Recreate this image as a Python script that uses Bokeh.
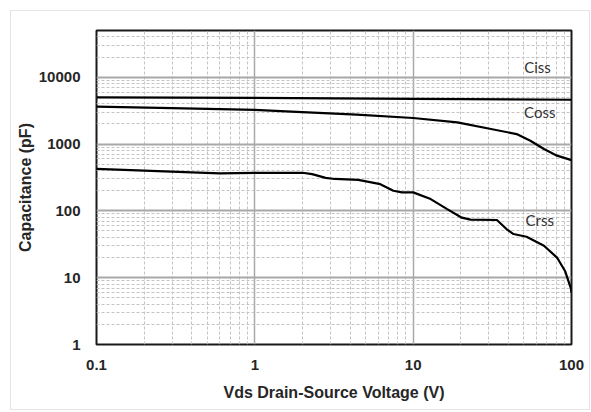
from bokeh.plotting import figure
from bokeh.models import FixedTicker, Label
from bokeh.embed import file_html
from bokeh.resources import INLINE

# ---- data ----
x_major = [0.1, 1, 10, 100]
x_labels = ["0.1", "1", "10", "100"]
y_major = [1, 10, 100, 1000, 10000]
y_labels = ["1", "10", "100", "1000", "10000"]

ciss_v = [0.1, 1, 10, 100]
ciss_c = [5000, 4900, 4750, 4600]

coss_v = [0.1, 0.3, 1, 1.7, 4.4, 10, 19, 31, 45, 55, 67, 81, 100]
coss_c = [3640, 3450, 3240, 3060, 2760, 2450, 2110, 1680, 1410, 1120, 843, 670, 575]

crss_v = [0.1, 0.2, 0.4, 0.6, 1, 2, 2.3, 2.8, 3.2, 4.5, 6.2, 7.5, 8.5, 10, 12.9,
          16.4, 20.3, 23, 33.8, 39, 43, 52, 67, 81, 91, 99, 100]
crss_c = [424, 400, 377, 363, 369, 372, 355, 312, 300, 290, 251, 200, 189, 189, 150,
          106, 79, 74, 73, 53, 45, 41, 30, 20, 12.6, 7, 6]

series_names = ["Ciss", "Coss", "Crss"]
label_v = [61, 63, 63]
label_c = [14000, 3000, 73]

x_range = (0.1, 100)
y_range = (1, 50000)

x_minor = [m * 10.0 ** e for e in range(-1, 2) for m in range(2, 10)]
y_minor = [m * 10.0 ** e for e in range(0, 5) for m in range(2, 10) if m * 10.0 ** e < y_range[1]]

p = figure(
    x_axis_type="log", y_axis_type="log",
    x_range=x_range, y_range=y_range,
    frame_width=475, frame_height=314,
    min_border_left=85, min_border_right=18, min_border_top=19, min_border_bottom=65,
    output_backend="svg", toolbar_location=None,
    x_axis_label="Vds Drain-Source Voltage (V)",
    y_axis_label="Capacitance (pF)",
)
p.styles = {"margin": "10px 0px 0px 10px", "border": "1px solid #e4e4e4"}
p.background_fill_color = "white"
p.border_fill_color = "white"
p.outline_line_color = "#1a1a1a"
p.outline_line_width = 2

p.xaxis.ticker = FixedTicker(ticks=x_major, minor_ticks=x_minor)
p.yaxis.ticker = FixedTicker(ticks=y_major, minor_ticks=y_minor)
p.xaxis.major_label_overrides = {v: s for v, s in zip(x_major, x_labels)}
p.yaxis.major_label_overrides = {v: s for v, s in zip(y_major, y_labels)}

for ax in (p.xaxis, p.yaxis):
    ax.axis_line_color = None
    ax.major_tick_line_color = None
    ax.minor_tick_line_color = None
    ax.major_label_text_font = "Liberation Sans"
    ax.major_label_text_font_style = "bold"
    ax.major_label_text_font_size = "15px"
    ax.major_label_text_color = "#262626"
    ax.axis_label_text_font = "Liberation Sans"
    ax.axis_label_text_font_style = "bold"
    ax.axis_label_text_font_size = "16px"
    ax.axis_label_text_color = "#262626"

p.xaxis.major_label_standoff = 9
p.yaxis.major_label_standoff = 10
p.xaxis.axis_label_standoff = 11
p.yaxis.axis_label_standoff = 2

for g in (p.xgrid, p.ygrid):
    g.grid_line_color = "#a8a8a8"
    g.minor_grid_line_color = "#c4c4c4"
    g.minor_grid_line_dash = "3 2"
    g.minor_grid_line_width = 1
p.ygrid.grid_line_width = 2
p.xgrid.grid_line_width = 1.5

p.line(ciss_v, ciss_c, line_color="black", line_width=2.2)
p.line(coss_v, coss_c, line_color="black", line_width=2.2)
p.line(crss_v, crss_c, line_color="black", line_width=2.2)

for name, lv, lc in zip(series_names, label_v, label_c):
    p.add_layout(Label(x=lv, y=lc, text=name, text_font="Lato", text_font_size="15px",
                       text_color="#333333", text_align="center", text_baseline="middle"))

open("out.html", "w").write(file_html(p, INLINE))
